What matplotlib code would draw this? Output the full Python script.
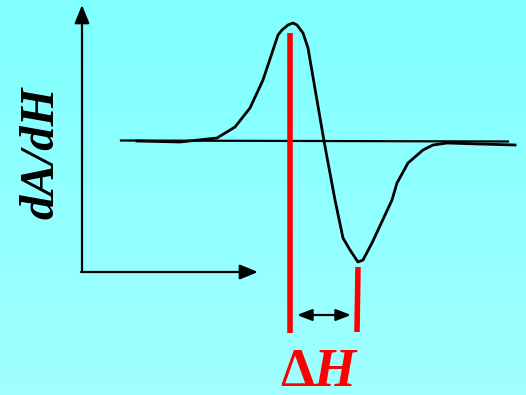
import numpy as np
import matplotlib
matplotlib.use("Agg")
import matplotlib.pyplot as plt

plt.rcParams["mathtext.fontset"] = "custom"
plt.rcParams["mathtext.rm"] = "Liberation Serif:bold"
plt.rcParams["mathtext.it"] = "Liberation Serif:bold:italic"
plt.rcParams["mathtext.bf"] = "Liberation Serif:bold"

# First-derivative absorption line: magnetic field position vs dA/dH signal
field = [137, 180, 217, 235, 250, 263, 278, 282, 288, 293, 297, 303, 308,
         324, 335, 343, 350, 358, 363, 372, 392, 397, 408, 423, 433, 447,
         480, 515]
signal = [0, -1, 3, 14, 33, 61, 106, 111, 116, 118, 116, 108, 93,
          0, -59, -97, -109, -121, -119, -102, -59, -42, -22, -9, -4, -2,
          -3, -4]

# Field range of the baseline
baseline_field = [121, 508]

# Peak-to-peak markers (positive peak and negative peak of the derivative)
peak_field = 290
trough_field = 358

axis_label = "dA/dH"
width_label = r"$\mathrm{\Delta}H$"

W, H = 526, 395
fig = plt.figure(figsize=(W / 100, H / 100), dpi=100)
ax = fig.add_axes([0, 0, 1, 1])
ax.set_xlim(0, W)
ax.set_ylim(141 - H, 141)
ax.axis("off")

# Cyan background with a gentle vertical gradient
grad = np.linspace(0, 1, 256)[:, None]
top = np.array([0.50, 1.0, 1.0])
bot = np.array([0.63, 1.0, 1.0])
img = top[None, None, :] * (1 - grad[..., None]) + bot[None, None, :] * grad[..., None]
ax.imshow(img, extent=[0, W, 141 - H, 141], aspect="auto", zorder=0)

# Coordinate axes drawn as arrows
arrow_kw = dict(arrowstyle="-|>,head_length=1.1,head_width=0.45",
                color="black", lw=1.6, shrinkA=0, shrinkB=0)
ax.annotate("", xy=(82, 141 - 5), xytext=(82, 141 - 272), arrowprops=arrow_kw)
ax.annotate("", xy=(258, 141 - 272), xytext=(81, 141 - 272), arrowprops=arrow_kw)

# Baseline and derivative curve
ax.plot(baseline_field, [0.5, -0.5], color="black", lw=1.6, zorder=3)
ax.plot(field, signal, color="black", lw=2.0, zorder=3,
        solid_joinstyle="round")

# Red markers at the extrema
ax.plot([peak_field, peak_field], [108, -192], color="#ff0000", lw=4,
        zorder=4, solid_capstyle="butt")
ax.plot([trough_field, trough_field - 1], [-126, -191], color="#ff0000",
        lw=4, zorder=4, solid_capstyle="butt")

# Double arrow for the peak-to-peak width
ax.annotate("", xy=(351, -174), xytext=(297, -174),
            arrowprops=dict(arrowstyle="<|-|>,head_length=0.9,head_width=0.35",
                            color="black", lw=1.6, shrinkA=0, shrinkB=0),
            zorder=5)

# Labels
ax.text(41, 141 - 153, axis_label, rotation=90, ha="center", va="center",
        fontsize=35, fontfamily="Liberation Serif", fontweight="bold",
        fontstyle="italic", color="black")
ax.text(320, 141 - 386, width_label, ha="center", va="baseline",
        fontsize=39, color="#ff0000")

fig.savefig("out.png", dpi=100)
